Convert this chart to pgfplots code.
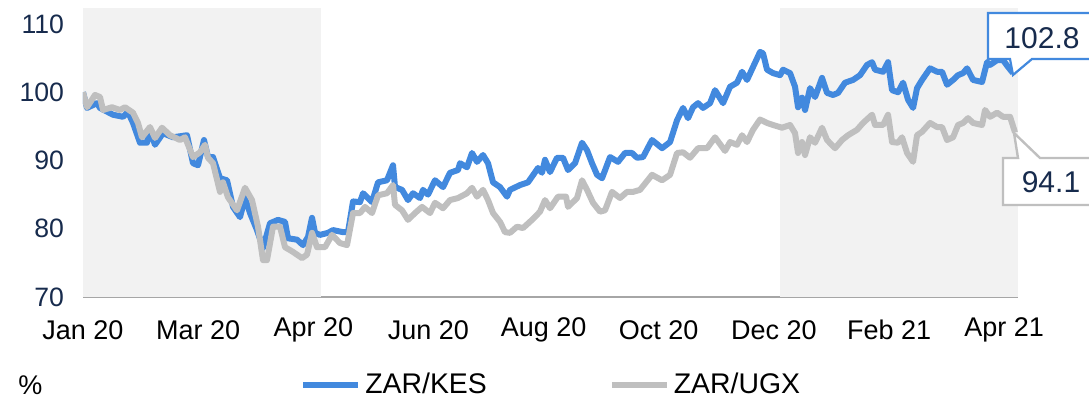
\documentclass[border=0pt]{standalone}
\usepackage{fontspec}
\setmainfont{Liberation Sans}
\usepackage{pgfplots}
\usepackage{pgfplotstable}
\pgfplotsset{compat=1.18}
\definecolor{kes}{RGB}{66,137,222}
\definecolor{ugx}{RGB}{191,191,191}
\definecolor{bgshade}{RGB}{242,242,242}
\definecolor{navy}{RGB}{23,43,77}
\definecolor{axgray}{RGB}{166,166,166}

% x = position (converted to days since 1 Jan 2020 by the x filter), y = index
\pgfplotstableread{
x y
83 100.0
87 97.7
97 98.4
100 97.7
113 96.7
123 96.4
128 97.1
133 95.5
140 92.6
147 92.6
150 94.5
155 92.3
163 94.0
173 93.4
187 93.7
193 89.6
198 89.3
204 93.0
208 90.5
213 90.5
220 87.4
227 87.1
233 83.2
240 81.7
245 84.5
250 82.3
257 79.8
263 77.2
270 80.8
278 81.3
285 81.0
288 78.6
297 78.4
303 77.6
308 78.8
312 81.6
315 79.4
320 79.1
328 79.4
333 79.8
343 79.5
348 79.5
353 84.0
360 83.9
363 85.2
372 83.9
378 86.8
387 87.1
393 89.3
395 86.1
402 85.7
408 84.2
413 85.2
420 84.5
423 85.7
428 85.0
435 87.1
443 86.1
450 88.2
458 88.6
460 89.6
467 89.0
472 91.1
477 89.8
483 90.8
488 89.6
493 86.8
500 86.1
507 84.7
510 85.7
520 86.4
528 86.8
538 88.9
542 88.2
545 90.1
550 88.3
557 90.4
563 90.4
568 88.6
575 89.6
582 92.6
587 91.5
592 89.6
597 87.9
602 87.4
610 90.5
618 89.8
625 91.1
632 91.1
637 90.4
643 90.5
652 93.0
662 91.8
670 92.7
677 95.9
683 97.7
688 96.2
693 97.8
698 98.4
703 97.7
710 98.4
715 100.3
718 99.6
723 98.4
730 100.8
737 101.4
742 103.0
747 101.8
753 103.7
760 105.9
763 105.7
767 103.3
773 102.8
780 102.5
783 103.3
790 102.8
795 100.8
798 97.8
802 99.2
805 97.4
810 100.6
815 99.3
822 102.1
827 99.9
833 99.6
838 99.9
845 101.4
853 101.8
860 102.5
867 104.0
872 104.4
875 103.3
883 103.0
888 104.4
892 100.3
898 100.0
903 101.4
908 98.9
913 97.7
917 100.6
922 101.8
930 103.5
937 103.0
942 103.0
947 101.1
953 101.8
958 102.5
963 102.8
967 103.5
973 101.8
982 101.5
987 104.4
990 104.0
997 104.7
1003 104.7
1008 103.7
1013 102.8
}\kes

\pgfplotstableread{
x y
83 100.0
87 97.8
95 99.6
100 99.3
103 97.4
112 97.8
120 97.4
125 97.8
133 97.0
138 95.5
142 93.4
150 94.9
155 93.3
162 94.8
170 93.7
180 93.0
185 93.4
193 90.5
200 91.2
205 92.3
208 90.4
213 89.6
220 85.4
223 86.8
228 84.6
237 82.7
245 86.0
252 84.2
258 80.3
263 75.4
267 75.4
273 80.3
280 80.3
285 77.3
293 76.6
302 75.7
307 76.2
312 79.4
317 77.3
325 77.3
332 79.1
340 77.9
347 77.6
353 82.3
360 82.3
365 83.2
372 82.3
378 84.9
387 85.2
393 86.4
395 83.5
402 82.7
408 81.3
415 82.3
422 83.2
430 82.3
435 83.8
443 83.0
450 84.2
458 84.5
467 85.2
472 86.0
477 84.7
483 85.7
488 84.2
493 82.3
500 81.0
505 79.5
510 79.4
517 80.3
523 80.1
532 81.3
540 82.5
545 84.2
550 83.0
558 84.7
566 84.7
568 83.2
577 84.5
582 87.1
587 85.7
593 83.8
600 82.5
605 82.7
612 85.4
620 84.5
627 85.4
633 85.4
640 85.7
652 87.9
662 87.1
670 87.9
677 91.1
683 91.2
690 90.4
698 91.8
707 91.8
715 93.4
725 91.4
730 92.7
737 92.3
742 93.7
747 92.7
753 94.5
760 96.0
767 95.5
773 95.2
782 94.8
790 95.2
795 94.0
798 91.1
802 92.7
805 90.8
810 93.4
815 92.6
822 94.8
827 93.0
835 91.8
842 93.0
848 93.7
857 94.5
863 95.5
872 96.7
875 95.2
883 95.2
888 96.7
892 92.7
898 92.6
902 93.4
907 91.1
913 89.8
917 93.7
922 94.2
930 95.5
937 94.9
942 94.9
947 93.0
953 93.4
958 95.2
963 95.5
968 96.2
973 95.5
982 95.2
985 97.4
990 96.4
997 97.0
1003 96.4
1010 96.4
1015 94.1
}\ugx

\begin{document}
\begin{tikzpicture}
\path[use as bounding box] (0,0) rectangle (544.5pt,200.5pt);
\begin{axis}[
  at={(41.5pt,52pt)}, anchor=south west,
  scale only axis, width=467.5pt, height=144.5pt,
  xmin=0, xmax=487.2, ymin=70, ymax=112.34,
  axis x line*=bottom, axis y line*=left,
  x axis line style={draw=axgray, line width=1pt, -},
  y axis line style={draw=none},
  major tick length=0pt,
  ytick={70,80,90,100,110},
  xtick={0,60,120,180,240,300,360,420,480},
  xticklabels={Jan 20,Mar 20,Apr 20,Jun 20,Aug 20,Oct 20,Dec 20,Feb 21,Apr 21},
  /pgf/number format/assume math mode=true,
  yticklabel style={font=\fontsize{13.3}{15}\selectfont, text=navy, anchor=east, xshift=-6pt},
  xticklabel style={font=\fontsize{13.5}{16}\selectfont, text=black, anchor=center, yshift=-16.5pt},
  x filter/.expression={(x-83)/1.919},
  legend columns=2,
  legend cell align=left,
  legend style={draw=none, fill=none, at={(0.232,-0.3045)}, anchor=west,
    inner sep=0pt, font=\fontsize{14.2}{16}\selectfont,
    /tikz/every even column/.append style={column sep=59pt}},
  legend image code/.code={\draw[#1, line width=3pt] (0pt,0pt) -- (27.5pt,0pt);},
  line join=round,
]
\fill[bgshade] (axis cs:0,70) rectangle (axis cs:124,112.34);
\fill[bgshade] (axis cs:363,70) rectangle (axis cs:487.2,112.34);
\addplot[kes, line width=3pt] table[x=x,y=y] {\kes};
\addlegendentry{ZAR/KES}
\addplot[ugx, line width=3pt] table[x=x,y=y] {\ugx};
\addlegendentry{ZAR/UGX}
\end{axis}
\draw[kes, line width=1.1pt, fill=white] (560pt,194pt) -- (494pt,194pt) -- (494pt,171pt) -- (505pt,171pt) -- (506.5pt,163pt) -- (516pt,171pt) -- (560pt,171pt);
\node[text=navy, font=\fontsize{15}{18}\selectfont] at (521pt,181.5pt) {102.8};
\draw[ugx, line width=1.2pt, fill=white] (560pt,121.5pt) -- (520pt,121.5pt) -- (507pt,134pt) -- (509pt,121.5pt) -- (501.5pt,121.5pt) -- (501.5pt,98pt) -- (560pt,98pt);
\node[text=navy, font=\fontsize{15}{18}\selectfont] at (525.5pt,109.5pt) {94.1};
\node[anchor=west, inner sep=0pt, font=\fontsize{13.5}{16}\selectfont] at (9pt,8pt) {\%};
\end{tikzpicture}
\end{document}
